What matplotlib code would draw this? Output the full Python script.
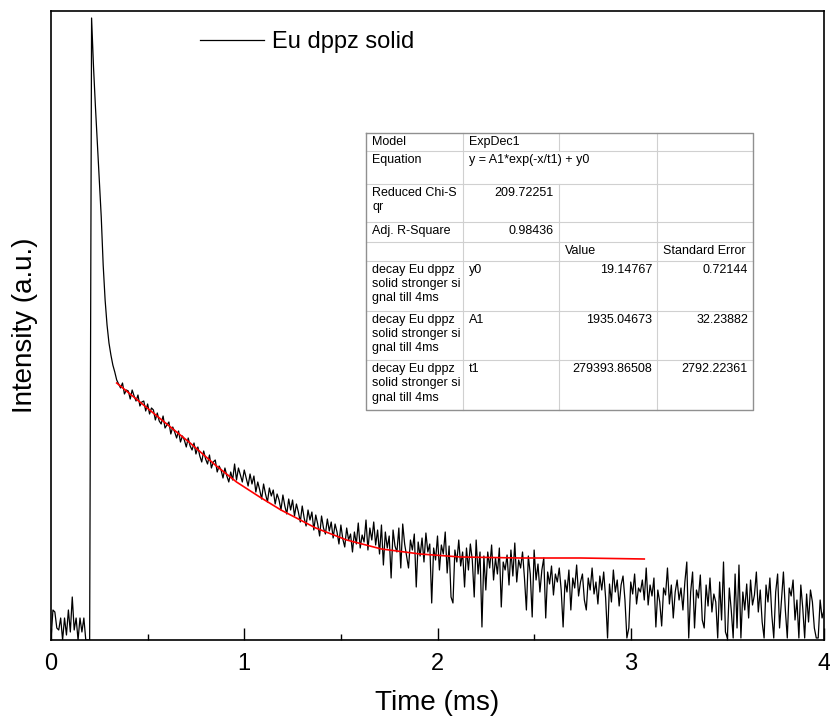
import numpy as np
import matplotlib
matplotlib.use('Agg')
matplotlib.rcParams['font.family'] = ['Liberation Sans', 'DejaVu Sans']
import matplotlib.pyplot as plt

# 測定データ（0.01 ms 間隔、強度は任意単位）
t_step = 0.01
# 0.00–0.34 ms: バックグラウンド・立ち上がり・初期減衰
head_counts = [
    0, 30, 28, 12, 10, 22, 0, 22, 5, 30,
    8, 43, 10, 22, 0, 22, 8, 22, 0, 0,
    0, 622, 573, 533, 496, 458, 423, 375, 340, 315,
    297, 285, 275, 268, 260,
]
# 0.35–4.00 ms: ノイズを含む減衰
tail_counts = [
    256, 252, 257, 246, 250, 249, 241, 250, 244, 239,
    245, 234, 238, 239, 229, 236, 226, 232, 230, 220,
    227, 219, 216, 224, 212, 215, 218, 206, 213, 208,
    202, 209, 198, 204, 200, 193, 202, 194, 190, 197,
    186, 193, 184, 178, 189, 181, 176, 185, 172, 178,
    180, 168, 174, 170, 162, 172, 164, 158, 168, 160,
    176, 160, 172, 165, 158, 170, 162, 154, 166, 156,
    164, 148, 158, 150, 141, 156, 146, 138, 152, 144,
    150, 136, 146, 140, 130, 145, 134, 126, 141, 130,
    140, 124, 136, 128, 118, 134, 122, 114, 130, 120,
    128, 110, 125, 116, 104, 124, 112, 106, 121, 109,
    118, 102, 116, 108, 96, 115, 101, 93, 112, 100,
    106, 88, 108, 96, 117, 92, 105, 98, 120, 90,
    112, 100, 118, 95, 110, 86, 115, 75, 108, 92,
    104, 62, 110, 94, 88, 112, 72, 116, 96, 84,
    72, 100, 90, 106, 53, 98, 84, 102, 78, 107,
    88, 96, 37, 92, 80, 104, 70, 95, 86, 108,
    67, 94, 43, 37, 90, 78, 100, 74, 88, 53,
    92, 70, 96, 80, 43, 100, 66, 88, 13, 84,
    50, 88, 72, 95, 60, 82, 66, 92, 33, 78,
    70, 85, 55, 90, 64, 97, 58, 80, 72, 88,
    62, 30, 84, 66, 23, 90, 60, 76, 48, 70,
    82, 22, 68, 56, 74, 45, 66, 58, 72, 50,
    13, 60, 48, 70, 30, 62, 52, 75, 44, 58,
    66, 40, 30, 62, 50, 72, 46, 58, 36, 64,
    50, 68, 42, 2, 56, 38, 70, 48, 60, 34,
    55, 64, 40, 2, 12, 58, 46, 66, 36, 52,
    48, 60, 40, 72, 35, 55, 44, 62, 13, 50,
    38, 14, 52, 45, 72, 36, 55, 22, 48, 60,
    40, 52, 30, 58, 78, 2, 48, 68, 12, 50,
    42, 65, 20, 12, 55, 34, 62, 28, 46, 38,
    2, 58, 20, 78, 8, 2, 52, 30, 2, 66,
    12, 75, 2, 48, 30, 56, 22, 60, 35, 45,
    68, 28, 50, 18, 2, 55, 38, 62, 25, 2,
    48, 66, 12, 40, 68, 30, 2, 52, 44, 60,
    20, 40, 2, 55, 32, 2, 46, 18, 50, 38,
    12, 2, 2, 40, 22, 30,
]

# ExpDec1 フィット曲線（図から読み取った点）
fit_time = [0.34, 0.46, 0.58, 0.72, 0.85, 0.96, 1.08, 1.19, 1.37, 1.53,
            1.71, 1.91, 2.12, 2.43, 2.74, 3.07]
fit_counts = [257, 238, 219, 197, 175, 158, 143, 130, 112, 100,
              91, 86, 83, 82, 82, 81]

# フィット結果の表
table_rows = [
    ['Model', 'ExpDec1', '', ''],
    ['Equation', 'y = A1*exp(-x/t1) + y0', '', ''],
    ['Reduced Chi-S\nqr', '209.72251', '', ''],
    ['Adj. R-Square', '0.98436', '', ''],
    ['', '', 'Value', 'Standard Error'],
    ['decay Eu dppz\nsolid stronger si\ngnal till 4ms', 'y0', '19.14767', '0.72144'],
    ['decay Eu dppz\nsolid stronger si\ngnal till 4ms', 'A1', '1935.04673', '32.23882'],
    ['decay Eu dppz\nsolid stronger si\ngnal till 4ms', 't1', '279393.86508', '2792.22361'],
]


def main():
    counts = np.array(head_counts + tail_counts, dtype=float)
    time = np.arange(len(counts)) * t_step

    fig = plt.figure(figsize=(8.3, 7.22), dpi=100)
    ax = fig.add_axes([51 / 830, 1 - 640 / 722, 773 / 830, 629 / 722])

    ax.plot(time, counts, color='black', lw=0.9, label='Eu dppz solid')
    ax.plot(fit_time, fit_counts, color='red', lw=1.2)

    ax.set_xlim(0, 4)
    ax.set_ylim(0, 629)
    ax.set_xticks([0, 1, 2, 3, 4])
    ax.set_xticks([0.5, 1.5, 2.5, 3.5], minor=True)
    ax.set_yticks([])
    ax.tick_params(axis='x', which='major', direction='in', length=8.5, width=1,
                   labelsize=17, pad=9)
    ax.tick_params(axis='x', which='minor', direction='in', length=4.5, width=1)
    for s in ax.spines.values():
        s.set_linewidth(1.2)
    ax.set_xlabel('Time (ms)', fontsize=20, labelpad=11)
    ax.set_ylabel('Intensity (a.u.)', fontsize=20, labelpad=9)

    ax.legend(loc='upper left', bbox_to_anchor=(149 / 773, 0.968), frameon=False,
              fontsize=17, handlelength=2.7, handletextpad=0.34, borderpad=0,
              borderaxespad=0)

    draw_table(fig)
    fig.savefig('out.png', dpi=100)


def draw_table(fig):
    """
    ピクセル座標のオーバーレイ上にフィット結果の表を描く。
    """
    ov = fig.add_axes([0, 0, 1, 1], facecolor='none')
    ov.set_xlim(0, 830)
    ov.set_ylim(722, 0)
    ov.axis('off')

    cols = [366, 463, 559, 657, 753]
    rows = [133, 151, 184, 222, 242, 261, 311, 360, 410]
    grid = '#d0d0d0'
    border = '#909090'

    ov.fill_between([cols[0], cols[-1]], rows[0], rows[-1], color='white', zorder=1)
    for y in rows[1:-1]:
        ov.plot([cols[0], cols[-1]], [y, y], color=grid, lw=0.8, zorder=2)
    for i, x in enumerate(cols[1:-1], start=1):
        for r in range(len(rows) - 1):
            if r == 1 and i == 2:
                continue  # 式の行はセルを結合
            ov.plot([x, x], [rows[r], rows[r + 1]], color=grid, lw=0.8, zorder=2)
    ov.plot([cols[0], cols[-1], cols[-1], cols[0], cols[0]],
            [rows[0], rows[0], rows[-1], rows[-1], rows[0]], color=border, lw=1.0, zorder=3)

    for r, row in enumerate(table_rows):
        top = rows[r] + 3
        for c, txt in enumerate(row):
            if not txt:
                continue
            numeric = txt[0].isdigit()
            if numeric:
                x, ha = cols[c + 1] - 5, 'right'
            else:
                x, ha = cols[c] + 6, 'left'
            ov.text(x, top, txt, fontsize=9, ha=ha, va='top', linespacing=1.25,
                    multialignment='left', zorder=4)


if __name__ == '__main__':
    main()
